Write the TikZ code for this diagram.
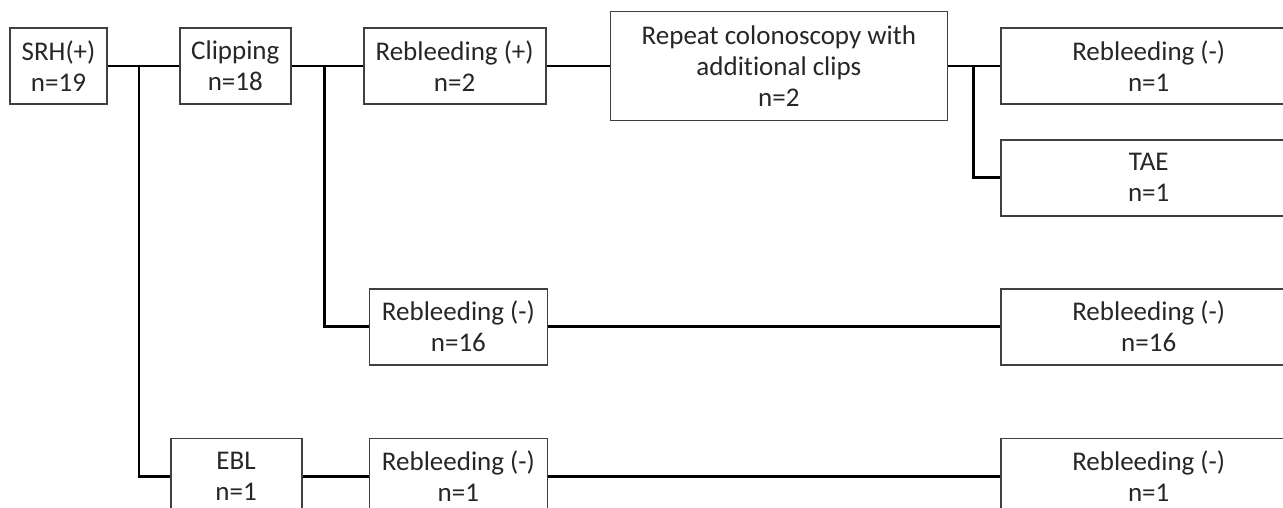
\documentclass[tikz,border=0pt]{standalone}
\usepackage{fontspec}
\setmainfont{Carlito}[Ligatures=NoCommon]
\usepackage{tikz}
\usetikzlibrary{positioning}

\begin{document}
\begin{tikzpicture}[
    x=1pt, y=1pt,
    box/.style={rectangle, draw=black!75, line width=1.8pt, minimum width=#1, minimum height=76pt, inner sep=0pt, align=center, text=black!85, font=\fontsize{27}{31}\selectfont},
    link/.style={line width=2.7pt, draw=black},
]
\useasboundingbox (0,0) rectangle (1283,-508);
% top row
\node[box=97pt] (srh) at (58.5,-66) {SRH(+)\\n=19};
\node[box=111pt, right=71pt of srh] (clip) {Clipping\\n=18};
\node[box=182pt, right=71pt of clip] (rbp) {Rebleeding (+)\\n=2};
\node[box=337pt, minimum height=109pt, right=63pt of rbp] (rep) {Repeat colonoscopy with\\additional clips\\n=2};
\node[box=295pt, right=52pt of rep] (rtop) {Rebleeding (-)\\n=1};
\node[box=295pt, below=34pt of rtop] (tae) {TAE\\n=1};
% middle and bottom rows
\node[box=295pt, below=71pt of tae] (rr16) {Rebleeding (-)\\n=16};
\node[box=295pt, below=72pt of rr16] (rr1) {Rebleeding (-)\\n=1};
\node[box=178pt, left=452pt of rr16] (rm16) {Rebleeding (-)\\n=16};
\node[box=178pt, left=452pt of rr1] (rb1) {Rebleeding (-)\\n=1};
\node[box=131pt, left=66pt of rb1] (ebl) {EBL\\n=1};

% branch points
\coordinate (j1) at ([xshift=31pt]srh.east);
\coordinate (j2) at ([xshift=33pt]clip.east);
\coordinate (j3) at ([xshift=25pt]rep.east);

\draw[link] (srh) -- (clip);
\draw[link] (clip) -- (rbp);
\draw[link] (rbp) -- (rep);
\draw[link] (rep) -- (rtop);
\draw[link] (j1) |- (ebl.west);
\draw[link] (j2) |- (rm16.west);
\draw[link] (j3) |- (tae.west);
\draw[link] (rm16) -- (rr16);
\draw[link] (ebl) -- (rb1);
\draw[link] (rb1) -- (rr1);
\end{tikzpicture}
\end{document}
